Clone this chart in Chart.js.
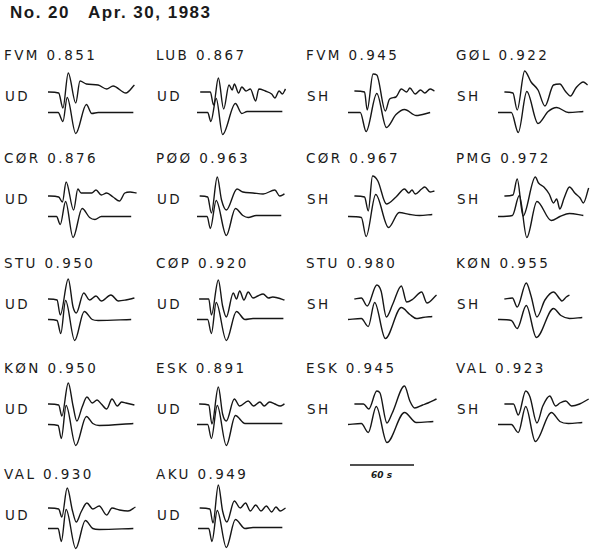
<!DOCTYPE html>
<html>
<head>
<meta charset="utf-8">
<script src="https://cdn.jsdelivr.net/npm/chart.js@4.4.1/dist/chart.umd.min.js"></script>
<style>
  body { margin: 0; width: 590px; height: 552px; overflow: hidden; background: #fff; position: relative; color: #1a1a1a; }
  .title { position: absolute; left: 10px; top: 4px; font: bold 17px "Liberation Sans", Arial, sans-serif; letter-spacing: 1.5px; white-space: pre; line-height: 1; }
  .lbl { position: absolute; font: 13.5px "DejaVu Sans", sans-serif; letter-spacing: 2.4px; white-space: pre; line-height: 14px; }
  .bar { position: absolute; font: italic bold 9px "DejaVu Sans", sans-serif; line-height: 1; }
  canvas { position: absolute; }
</style>
</head>
<body>
<div class="title">No. 20   Apr. 30, 1983</div>
<script>
// station, component and correlation for each panel, row by row
const stations = ['FVM', 'LUB', 'FVM', 'GØL', 'CØR', 'PØØ', 'CØR', 'PMG', 'STU', 'CØP', 'STU', 'KØN', 'KØN', 'ESK', 'ESK', 'VAL', 'VAL', 'AKU'];
const components = ['UD', 'UD', 'SH', 'SH', 'UD', 'UD', 'SH', 'SH', 'UD', 'UD', 'SH', 'SH', 'UD', 'UD', 'SH', 'SH', 'UD', 'UD'];
const correlations = [0.851, 0.867, 0.945, 0.922, 0.876, 0.963, 0.967, 0.972, 0.950, 0.920, 0.980, 0.955, 0.950, 0.891, 0.945, 0.923, 0.930, 0.949];

// waveforms as [time s, amplitude] turning points; obs = upper trace, syn = lower trace
const fvmUdObs = [[0,0],[10,-1],[14,-16],[19,19],[26,-11],[30,11],[36,8],[47,7],[55,3],[61,6],[73,-1],[81,7]];
const fvmUdSyn = [[0,0],[9.5,0],[14,-9],[18,15],[26,-21],[36,8],[41,-1],[47,0],[80,0]];
const lubUdObs = [[3,0],[12.5,0],[15.5,-13],[20,14],[25,-17],[30,7],[33,2],[35,8],[39,-1],[42,5],[46,1],[50,3],[55,-9],[58,3],[64,1],[70,-2],[73,-6],[77,1],[80,-2],[83,3]];
const lubUdSyn = [[0,0],[10,0],[13,-9],[18,14],[24,-22],[36,9],[42,-1],[47,1],[80,1]];
const fvmShObs = [[6,1],[15.5,0],[18,-18],[23.5,18],[27,17],[35,-19],[39,-7],[45,-5],[50,3],[55,0],[58,4],[63,-2],[68,2],[72,-1],[77,3],[81,1]];
const fvmShSyn = [[0,0],[11.5,0],[17,-19],[27,19],[36,-15],[45,-2],[53,3],[64,-3],[77,0]];
const golShObs = [[6,0],[14,-1],[18,-18],[25,21],[31,10],[37.5,2],[44,-14],[52,7],[58,8],[63,1],[68,-4],[73,4],[80,10],[84,7]];
const golShSyn = [[0,0],[12.5,0],[19,-20],[27,21],[37.5,-11],[47,1],[55,5],[66,0],[80,1]];
const corUdObs = [[0,0],[10,-1],[13.5,-6],[17,14],[24,-14],[28,7],[31,3],[41,3],[45,6],[50,1],[55,3],[61,-1],[67,-5],[72,3],[77,4],[83,3]];
const corUdSyn = [[0,0],[8,0],[11.5,-8],[16.5,15],[23.5,-21],[32,8],[39,-1],[44,-3],[50,0],[78,0]];
const pooUdObs = [[2.5,0],[10,-1],[13.5,-17],[19,19],[23,-4],[27.5,-14],[37.5,7],[43,4],[52.5,3],[62,2],[73,6],[77.5,0],[82,2]];
const pooUdSyn = [[0,0],[9.5,0],[12.5,-12],[18,16],[27.5,-19],[36,8],[43,1],[48,-1],[55.5,1],[79,1]];
const corShObs = [[6,0],[15.5,-1],[19,-15],[23,20],[28,15],[36,-8],[45,-1],[53,7],[57,3],[60,6],[63,2],[69,7],[72,9],[77,4],[81,5]];
const corShSyn = [[0,0],[12.5,-1],[17,-20],[26,22],[38,-11],[48,4],[58,2],[67,1],[79,2]];
const pmgShObs = [[6,0],[14,1],[18,17],[23.5,-20],[35,19],[38,13],[43,9],[48,2],[52,-7],[55,-3],[58,-13],[62,-2],[67,9],[72,3],[77,-2],[80,-7],[85,8]];
const pmgShSyn = [[0,0],[13.5,1],[20,21],[27,-21],[36.5,15],[50,-4],[58,0],[67,3],[80,1]];
const stuUdObs = [[0,0],[8.5,-1],[11.5,-16],[19,20],[23.5,-8],[26.5,-14],[33.5,6],[39,-1],[45,3],[50,-2],[59,4],[66,-2],[73,-1],[81,1]];
const stuUdSyn = [[0,0],[8.5,-1],[12,-14],[16.5,19],[25,-21],[34,8],[41.5,0],[47,-1],[78,0]];
const copUdObs = [[2,0],[11,0],[13.5,-16],[20,19],[24,-7],[27.5,-18],[34,6],[37,0],[40,8],[44,-1],[48,7],[52.5,1],[57,3],[62,5],[67,1],[71,2],[76,1],[82,-1]];
const copUdSyn = [[0,0],[10,0],[13.5,-14],[18,17],[27.5,-21],[37,8],[45,0],[52.5,1],[81,1]];
const stuShObs = [[6,0],[12.5,1],[18,-7],[27,14],[31,8],[36,-18],[42,-5],[50,13],[55,-3],[61,0],[69,7],[74,-4],[83,4]];
const stuShSyn = [[0,0],[12.5,1],[19,-7],[25,17],[35,-19],[50,12],[58,5],[64,1],[70,2],[79,3]];
const konShObs = [[6,0],[13.5,1],[18,-8],[26.5,16],[31,3],[36.5,-18],[44,-1],[52,7],[58,0],[60,-2],[64,2],[67,4]];
const konShSyn = [[0,0],[12.5,-1],[18,-9],[26.5,14],[36,-18],[52,11],[59,4],[67,1],[79,2]];
const konUdObs = [[0,0],[10,-1],[13,-12],[19,21],[23.5,-2],[27,-17],[32,-3],[36.5,7],[41.5,1],[46,4],[50,0],[55,-5],[60,5],[65,-2],[69,2],[73,1],[81,-1]];
const konUdSyn = [[0,0],[9.5,-1],[12.5,-14],[17,19],[26,-21],[36,8],[42,1],[48,-1],[80,1]];
const eskUdObs = [[2,0],[11,-1],[14,-20],[20,17],[24,-10],[27.5,-17],[35,5],[40,-2],[48,3],[53,-2],[59,2],[63,-2],[68,2],[73,0],[78,-2],[82,0]];
const eskUdSyn = [[0,0],[10,0],[13.5,-14],[19,19],[27.5,-21],[36,9],[45,1],[52.5,1],[80,1]];
const eskShObs = [[6,0],[14.5,0],[19.5,-5],[27,13],[30,11],[36.5,-19],[41.5,-9],[53,18],[58,3],[62.5,-4],[70,-1],[75,1],[83,5]];
const eskShSyn = [[0,0],[12.5,1],[19,-8],[26.5,18],[36.5,-18],[53,12],[64,2],[80,3]];
const valShObs = [[6,0],[14.5,0],[19,-11],[26,13],[30,7],[36.5,-19],[42,-2],[48.5,8],[54,-2],[58,1],[63.5,3],[69,-2],[76.5,0],[85,5]];
const valShSyn = [[0,0],[12.5,0],[19,-8],[26,18],[35,-17],[50,12],[58,3],[66,1],[79,2]];
const valUdObs = [[0,0],[10,-1],[13,-9],[18,20],[23,-3],[26.5,-14],[31,-4],[36.5,5],[42,-1],[48,2],[55,-7],[60,0],[67,-2],[75,-3],[82,1]];
const valUdSyn = [[0,0],[9.5,0],[12.5,-13],[17,19],[26,-20],[35,8],[42,0],[48,-1],[80,0]];
const akuUdObs = [[2.5,0],[12,-1],[15,-15],[20,23],[24,-3],[28,-14],[35,7],[40.5,0],[45.5,5],[50,-3],[55,3],[60,-3],[65,2],[70,-4],[74,1],[78,-3],[83,0]];
const akuUdSyn = [[1,0],[11,0],[14,-13],[19,18],[27.5,-19],[36,9],[45,0],[52.5,1],[80,1]];

const scaleBar = [[0,0],[60,0]];
const scaleBarLabel = '60 s';

const observed = [fvmUdObs, lubUdObs, fvmShObs, golShObs, corUdObs, pooUdObs, corShObs, pmgShObs, stuUdObs, copUdObs, stuShObs, konShObs, konUdObs, eskUdObs, eskShObs, valShObs, valUdObs, akuUdObs];
const synthetic = [fvmUdSyn, lubUdSyn, fvmShSyn, golShSyn, corUdSyn, pooUdSyn, corShSyn, pmgShSyn, stuUdSyn, copUdSyn, stuShSyn, konShSyn, konUdSyn, eskUdSyn, eskShSyn, valShSyn, valUdSyn, akuUdSyn];

// page layout
const labelX = [4, 156, 306, 456];
const traceX = [48, 197, 348, 498];
const labelY = [55, 158, 263, 368, 474];
const baseY = [92, 196, 299, 404, 508];
const W = 96, H = 74, TMAX = 90;   // 96 px for 90 s
const INK = '#161616';

function addText(cls, text, x, y) {
  const d = document.createElement('div');
  d.className = cls;
  d.textContent = text;
  d.style.left = x + 'px';
  d.style.top = y + 'px';
  document.body.appendChild(d);
}

function addCanvas(x, y, w, h) {
  const c = document.createElement('canvas');
  c.width = w; c.height = h;
  c.style.left = x + 'px';
  c.style.top = y + 'px';
  document.body.appendChild(c);
  return c;
}

const toXY = arr => arr.map(p => ({ x: p[0], y: p[1] }));

function trace(arr, axis) {
  return {
    data: toXY(arr),
    yAxisID: axis,
    borderColor: INK,
    borderWidth: 1.4,
    pointRadius: 0,
    tension: 0.4,
    cubicInterpolationMode: 'monotone',
    clip: false
  };
}

const baseOptions = {
  responsive: false,
  animation: false,
  events: [],
  layout: { padding: 0 },
  plugins: { legend: { display: false }, tooltip: { enabled: false } }
};

stations.forEach((stn, i) => {
  const col = i % 4, row = Math.floor(i / 4);
  addText('lbl', stn + ' ' + correlations[i].toFixed(3), labelX[col], labelY[row] - 7);
  addText('lbl', components[i], labelX[col] + 1, labelY[row] + 41 - 7);

  // upper trace baseline sits 25 px below canvas top, lower one 20.5 px further down
  const c = addCanvas(traceX[col], baseY[row] - 25, W, H);
  new Chart(c, {
    type: 'line',
    data: { datasets: [trace(observed[i], 'yObs'), trace(synthetic[i], 'ySyn')] },
    options: {
      ...baseOptions,
      scales: {
        x: { type: 'linear', min: 0, max: TMAX, display: false },
        yObs: { type: 'linear', min: -49, max: 25, display: false },
        ySyn: { type: 'linear', min: -28.5, max: 45.5, display: false }
      }
    }
  });
});

// 60 s time scale
const sc = addCanvas(350, 460, W, 10);
new Chart(sc, {
  type: 'line',
  data: { datasets: [{ ...trace(scaleBar, 'y'), cubicInterpolationMode: 'default', tension: 0 }] },
  options: {
    ...baseOptions,
    scales: {
      x: { type: 'linear', min: 0, max: TMAX, display: false },
      y: { type: 'linear', min: -1, max: 1, display: false }
    }
  }
});
addText('bar', scaleBarLabel, 371, 471);
</script>
</body>
</html>
